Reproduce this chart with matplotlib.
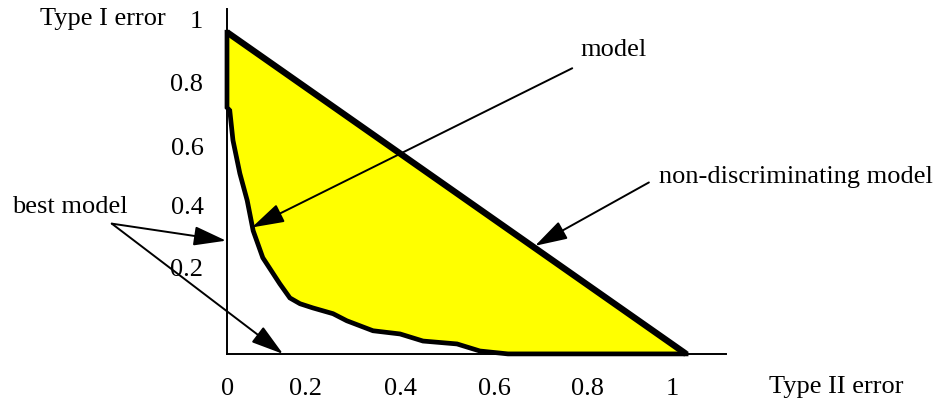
import matplotlib
matplotlib.use("Agg")
import matplotlib.pyplot as plt
from matplotlib import rcParams

rcParams["font.family"] = ["Liberation Serif", "DejaVu Serif"]
rcParams["font.size"] = 19

# ---------------------------------------------------------------------------
# Data
# ---------------------------------------------------------------------------
# empirical curve of the model: Type II error (x) vs Type I error (y)
type2 = [0.0, 0.0, 0.006, 0.013, 0.028, 0.044, 0.057, 0.078, 0.115, 0.137,
         0.159, 0.187, 0.231, 0.261, 0.318, 0.377, 0.427, 0.501, 0.551,
         0.612, 1.0]
type1 = [1.0, 0.766, 0.757, 0.664, 0.561, 0.477, 0.383, 0.299, 0.218, 0.174,
         0.156, 0.143, 0.125, 0.103, 0.072, 0.062, 0.040, 0.031, 0.009,
         0.0, 0.0]

# non-discriminating model: straight line from (0, 1) to (1, 0)
diag_x = [0.0, 1.0]
diag_y = [1.0, 0.0]

# tick labels (the drawing places them unevenly)
xtick_labels = ["0", "0.2", "0.4", "0.6", "0.8", "1"]
ytick_labels = ["0.2", "0.4", "0.6", "0.8", "1"]
xtick_pos = [0.002, 0.170, 0.377, 0.582, 0.786, 0.969]
ytick_pos = [0.268, 0.460, 0.645, 0.844, 1.040]

# ---------------------------------------------------------------------------
# Figure
# ---------------------------------------------------------------------------
fig = plt.figure(figsize=(9.38, 4.12), dpi=100)
ax = fig.add_axes([0.242, 0.141, 0.532, 0.837])

# yellow area between the model curve and the diagonal
ax.fill(type2, type1, color="#FFFF00", zorder=1, clip_on=False)
ax.plot(type2, type1, color="black", lw=3.4, zorder=3, clip_on=False,
        solid_joinstyle="miter")
ax.plot(diag_x, diag_y, color="black", lw=4.6, zorder=4, clip_on=False,
        solid_capstyle="butt")

ax.set_xlim(0, 1.087)
ax.set_ylim(0, 1.072)
for side in ["top", "right"]:
    ax.spines[side].set_visible(False)
for side in ["left", "bottom"]:
    ax.spines[side].set_linewidth(1.4)

ax.set_xticks(xtick_pos, xtick_labels)
ax.set_yticks(ytick_pos, ytick_labels)
ax.tick_params(axis="x", length=0, pad=17)
ax.tick_params(axis="y", length=0, pad=17)

ax.set_xlabel("Type II error")
ax.xaxis.set_label_coords(1.22, -0.096)
ax.xaxis.label.set_va("center")
ax.set_ylabel("Type I error", rotation=0, va="center", ha="center")
ax.yaxis.set_label_coords(-0.248, 0.971)

# ---------------------------------------------------------------------------
# Annotations
# ---------------------------------------------------------------------------
arrow = dict(arrowstyle="-|>,head_length=2.0,head_width=0.6",
             color="black", lw=1.4, mutation_scale=10, shrinkA=0, shrinkB=0)

ax.text(0.843, 0.944, "model", ha="center", va="center")
ax.annotate("", xy=(0.054, 0.393), xytext=(0.752, 0.888),
            arrowprops=arrow, annotation_clip=False, zorder=6)

ax.text(1.240, 0.551, "non-discriminating model", ha="center", va="center")
ax.annotate("", xy=(0.671, 0.336), xytext=(0.919, 0.533),
            arrowprops=arrow, annotation_clip=False, zorder=6)

ax.text(-0.342, 0.458, "best model", ha="center", va="center")
ax.annotate("", xy=(-0.002, 0.352), xytext=(-0.251, 0.405),
            arrowprops=arrow, annotation_clip=False, zorder=6)
ax.annotate("", xy=(0.122, 0.0), xytext=(-0.251, 0.405),
            arrowprops=arrow, annotation_clip=False, zorder=6)

fig.savefig("out.png", dpi=100)
